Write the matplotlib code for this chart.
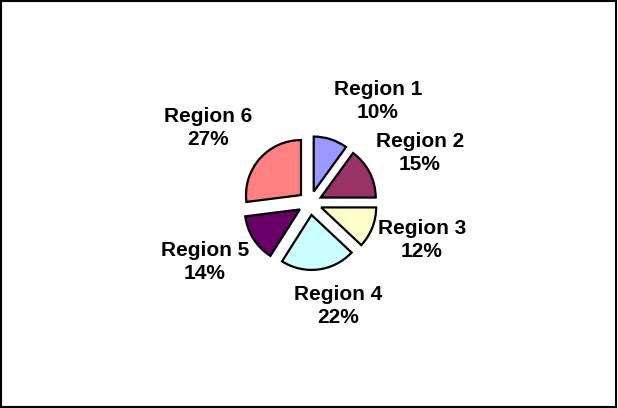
import matplotlib.pyplot as plt
from matplotlib.patches import Rectangle

plt.rcParams["font.family"] = ["Liberation Sans", "DejaVu Sans"]

W, H = 618, 408

regions = ["Region 1", "Region 2", "Region 3", "Region 4", "Region 5", "Region 6"]
shares = [10, 15, 12, 22, 14, 27]
colors = ["#9999FF", "#993366", "#FFFFCC", "#CCFFFF", "#660066", "#FF8080"]

# label anchor points in pixel coordinates (x, y from top)
label_xy = [(378, 101), (420, 153), (422, 240), (338, 306), (205, 262), (208, 128)]

fig = plt.figure(figsize=(W / 100, H / 100), dpi=100)
ax = fig.add_axes([0, 0, 1, 1])

# explode is in data units here (axes are in pixels)
ax.pie(
    shares,
    colors=colors,
    startangle=90,
    counterclock=False,
    center=(310, H - 203),
    radius=55,
    explode=[12] * len(shares),
    wedgeprops=dict(edgecolor="black", linewidth=1.6),
    frame=True,
)
ax.set_xlim(0, W)
ax.set_ylim(0, H)
ax.set_aspect("equal")
ax.axis("off")

for name, pct, (x, y) in zip(regions, shares, label_xy):
    ax.text(x, H - y, f"{name}\n{pct}%", ha="center", va="center",
            fontsize=15, fontweight="bold", linespacing=1.3)

fig.patches.append(Rectangle((0.0015, 0.002), 0.996, 0.995, transform=fig.transFigure,
                             fill=False, edgecolor="black", linewidth=1.5))

fig.savefig("out.png", dpi=100, facecolor="white")
